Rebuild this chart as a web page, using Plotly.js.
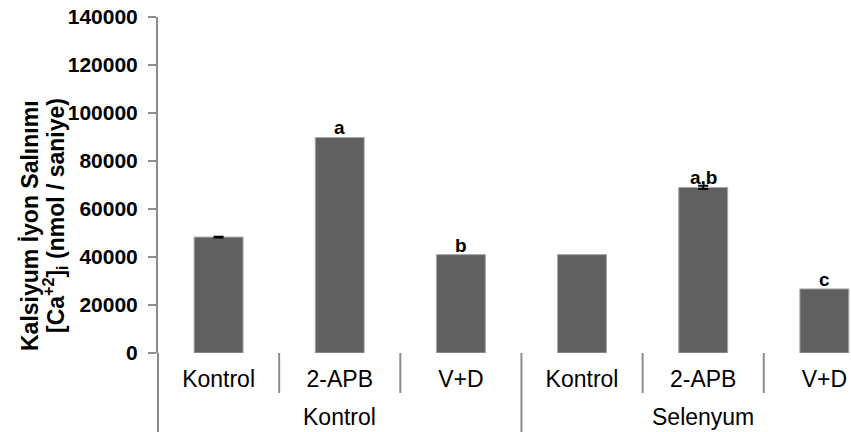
<!DOCTYPE html>
<html><head><meta charset="utf-8">
<script src="https://cdn.plot.ly/plotly-3.0.1.min.js"></script>
<style>html,body{margin:0;padding:0;background:#fff}#chart{width:851px;height:432px}</style>
</head><body><div id="chart"></div>
<script>
// ---- data ----
const categories = ['Kontrol', '2-APB', 'V+D', 'Kontrol', '2-APB', 'V+D'];
const groups = ['Kontrol', 'Selenyum'];
const groupSizes = [3, 3];
const values = [48300, 89800, 41000, 41000, 69000, 26700];
const errors = [150, 0, 0, 0, 700, 0];
const letters = ['', 'a', 'b', '', 'a,b', 'c'];
const yTickVals = [0, 20000, 40000, 60000, 80000, 100000, 120000, 140000];
const yTitleLine1 = 'Kalsiyum İyon Salınımı';
const yTitleLine2 = '[Ca<sup>+2</sup>]<sub>i</sub> (nmol / saniye)';

// ---- layout helpers ----
const W = 851, H = 432;
const M = {l: 158, r: 0, t: 17, b: 79};
const plotH = H - M.t - M.b;
const plotW = W - M.l - M.r;
const xRange = [-0.5, 5.22];
const gray = '#8c8c8c';
const FONT = 'Liberation Sans, Arial, sans-serif';
const idx = categories.map((_, i) => i);
const pyPaper = px => (H - M.b - px) / plotH;           // pixel row -> paper y
const pxPaper = px => (px - M.l) / plotW;               // pixel col -> paper x
const xPaper = v => (v - xRange[0]) / (xRange[1] - xRange[0]);

const bars = {
  type: 'bar', x: idx, y: values, width: 0.404,
  marker: {color: '#606060', line: {color: '#a8a8a8', width: 1}},
  hoverinfo: 'y', showlegend: false
};
const errIdx = idx.filter(i => errors[i] > 0);
const errTrace = {
  type: 'scatter', mode: 'markers', x: errIdx, y: errIdx.map(i => values[i]),
  marker: {size: 1, opacity: 0},
  error_y: {type: 'data', array: errIdx.map(i => errors[i]), visible: true, color: '#000', thickness: 2, width: 5},
  showlegend: false, hoverinfo: 'skip'
};

const shapes = [];
let start = 0;
const bounds = [];
groupSizes.forEach(g => { for (let k = 0; k <= g; k++) bounds.push({v: start + k - 0.5, major: k === 0 || k === g}); start += g; });
const seen = new Set();
bounds.forEach(b => {
  if (seen.has(b.v)) return; seen.add(b.v);
  const f = xPaper(b.v);
  if (f < -0.001 || f > 1.001) return;
  shapes.push({type: 'line', xref: 'paper', yref: 'paper', x0: f, x1: f, y0: 0,
    y1: b.major ? pyPaper(H + 2) : pyPaper(393), line: {color: gray, width: 2}});
});

const annotations = [];
letters.forEach((t, i) => {
  if (!t) return;
  annotations.push({x: i, y: values[i], xref: 'x', yref: 'y', text: t, showarrow: false,
    yanchor: 'bottom', yshift: -3, font: {family: FONT, size: 19, weight: 'bold', color: '#000'}});
});
let s = 0;
groups.forEach((g, gi) => {
  const c = s + (groupSizes[gi] - 1) / 2; s += groupSizes[gi];
  annotations.push({x: c, y: pyPaper(417), xref: 'x', yref: 'paper', text: g, showarrow: false,
    yanchor: 'middle', font: {family: FONT, size: 23, color: '#000'}});
});
annotations.push({x: pxPaper(30), y: pyPaper(226), xref: 'paper', yref: 'paper', text: yTitleLine1,
  textangle: -90, showarrow: false, xanchor: 'center', yanchor: 'middle',
  font: {family: FONT, size: 23, weight: 'bold', color: '#000'}});
annotations.push({x: pxPaper(55), y: pyPaper(216), xref: 'paper', yref: 'paper', text: yTitleLine2,
  textangle: -90, showarrow: false, xanchor: 'center', yanchor: 'middle',
  font: {family: FONT, size: 23, weight: 'bold', color: '#000'}});

const layout = {
  width: W, height: H, margin: {l: M.l, r: M.r, t: M.t, b: M.b, pad: 0},
  paper_bgcolor: '#fff', plot_bgcolor: '#fff', showlegend: false,
  xaxis: {type: 'linear', range: xRange, tickmode: 'array', tickvals: idx, ticktext: categories,
    showline: false, zeroline: false, showgrid: false, ticks: '', ticklabelstandoff: 10,
    tickfont: {family: FONT, size: 23, color: '#000'}},
  yaxis: {range: [0, 140000], tickmode: 'array', tickvals: yTickVals, tickformat: 'd',
    showline: true, linecolor: gray, linewidth: 2, ticks: 'outside', ticklen: 8, tickwidth: 2, tickcolor: gray,
    showgrid: false, zeroline: false, ticklabelstandoff: 6,
    tickfont: {family: FONT, size: 21, weight: 'bold', color: '#000'}},
  shapes: shapes, annotations: annotations
};
Plotly.newPlot('chart', [bars, errTrace], layout, {displayModeBar: false, staticPlot: true});
</script></body></html>
